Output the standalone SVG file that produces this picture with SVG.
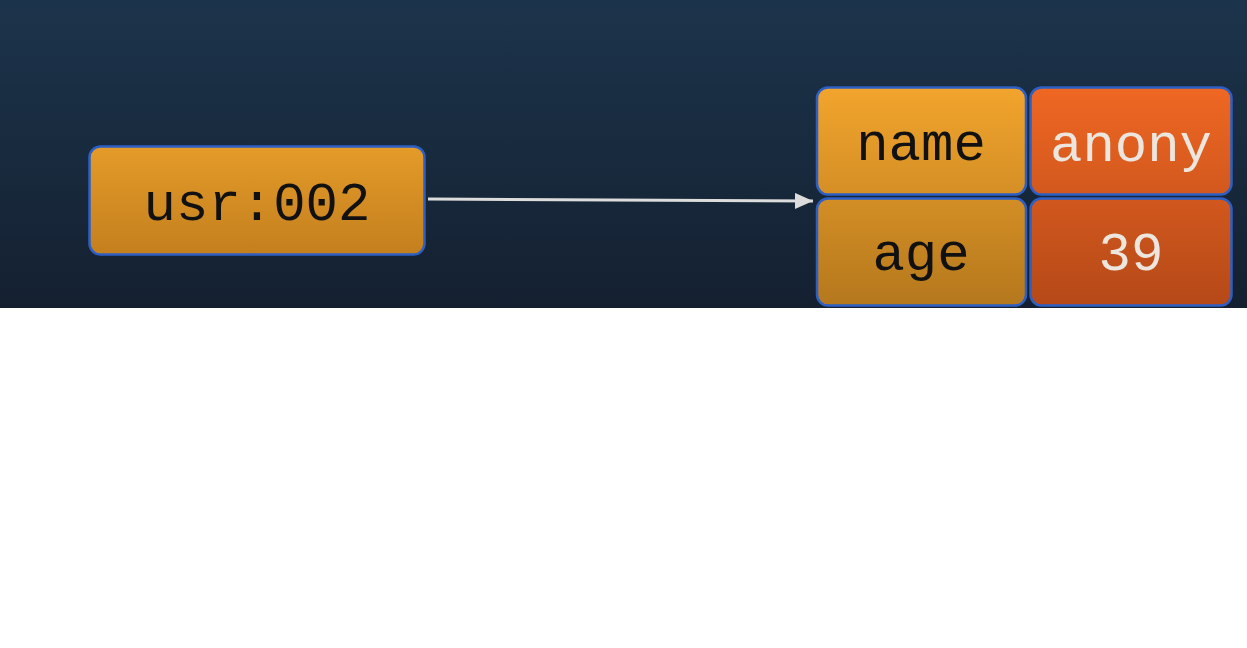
<svg xmlns="http://www.w3.org/2000/svg" width="1247" height="648" viewBox="0 0 1247 648">
<defs>
<linearGradient id="bg" x1="0" y1="0" x2="0" y2="308" gradientUnits="userSpaceOnUse"><stop offset="0" stop-color="#1c344b"/><stop offset="1" stop-color="#142030"/></linearGradient>
<linearGradient id="gUsr" x1="0" y1="146" x2="0" y2="255" gradientUnits="userSpaceOnUse"><stop offset="0" stop-color="#e49b29"/><stop offset="1" stop-color="#c47f1e"/></linearGradient>
<linearGradient id="gKey" x1="0" y1="87" x2="0" y2="305" gradientUnits="userSpaceOnUse"><stop offset="0" stop-color="#f2a52d"/><stop offset="1" stop-color="#b5781d"/></linearGradient>
<linearGradient id="gVal" x1="0" y1="87" x2="0" y2="305" gradientUnits="userSpaceOnUse"><stop offset="0" stop-color="#ef6723"/><stop offset="1" stop-color="#b54918"/></linearGradient>
<marker id="ah" markerWidth="18" markerHeight="16" refX="18" refY="8" orient="auto" markerUnits="userSpaceOnUse" viewBox="0 0 18 16"><path d="M0,0 L18,8 L0,16 Z" fill="#dcdcdc"/></marker>
</defs>
<style>
.box{stroke:#2d5fc4;stroke-width:2.5}
.t{font-family:"Liberation Mono","Courier New",monospace;font-size:54px;text-anchor:middle}
.k{fill:#111}
.v{fill:#ece6df}
</style>
<rect x="0" y="0" width="1247" height="308" fill="url(#bg)"/>
<rect x="0" y="308" width="1247" height="340" fill="#ffffff"/>
<g id="connectors">
<path d="M428,199 L813,201" stroke="#dcdcdc" stroke-width="3" fill="none" marker-end="url(#ah)"/>
</g>
<g id="usr002">
<rect class="box" x="89.5" y="146.5" width="335" height="108" rx="11" fill="url(#gUsr)"/>
<text class="t k" x="257" y="220">usr:002</text>
</g>
<g id="key-name">
<rect class="box" x="817" y="87.5" width="209" height="107" rx="11" fill="url(#gKey)"/>
<text class="t k" x="921" y="160">name</text>
</g>
<g id="val-anony">
<rect class="box" x="1030.5" y="87.5" width="201" height="107" rx="11" fill="url(#gVal)"/>
<text class="t v" x="1131" y="161">anony</text>
</g>
<g id="key-age">
<rect class="box" x="817" y="198.5" width="209" height="107" rx="11" fill="url(#gKey)"/>
<text class="t k" x="921" y="270">age</text>
</g>
<g id="val-39">
<rect class="box" x="1030.5" y="198.5" width="201" height="107" rx="11" fill="url(#gVal)"/>
<text class="t v" x="1131" y="270">39</text>
</g>
</svg>
